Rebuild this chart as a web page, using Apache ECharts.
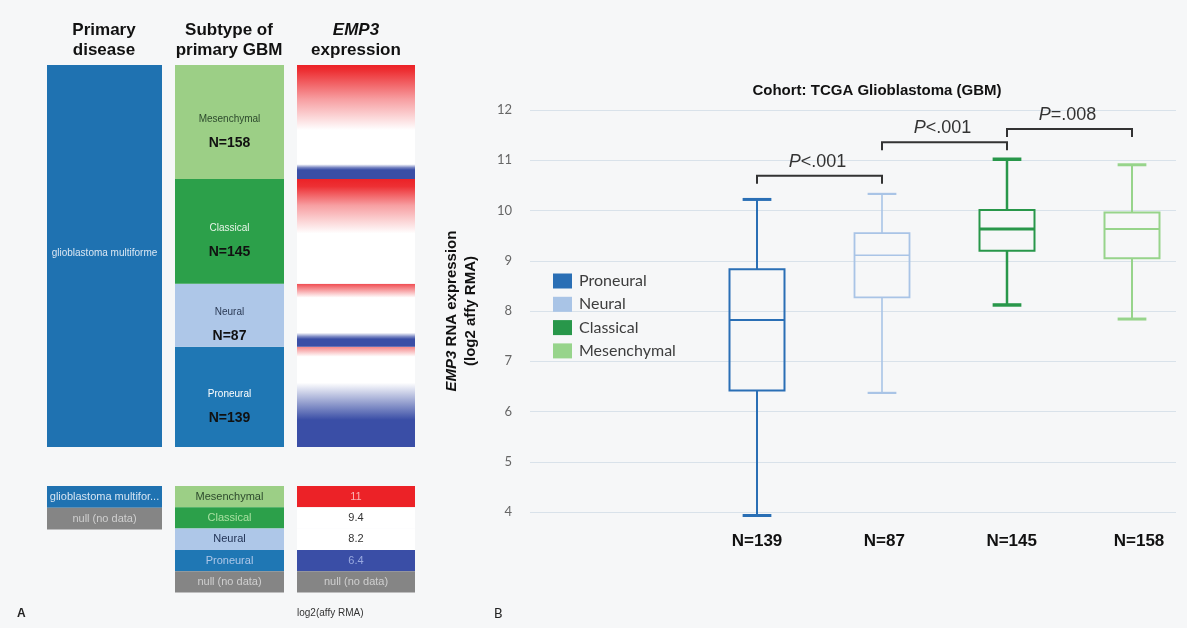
<!DOCTYPE html>
<html><head><meta charset="utf-8">
<script src="https://cdn.jsdelivr.net/npm/echarts@6/dist/echarts.min.js"></script>
<style>html,body{margin:0;padding:0;background:#f6f7f8}#c{width:1187px;height:628px}</style>
</head><body><div id="c"></div><script>
// ---------------- data ----------------
const subtypes = ['Proneural', 'Neural', 'Classical', 'Mesenchymal'];
const subtypeN = [139, 87, 145, 158];
const primaryDisease = 'glioblastoma multiforme';
const primaryLegend = ['glioblastoma multifor...', 'null (no data)'];
// box stats: [min, Q1, median, Q3, max] (log2 affy RMA)
const proneuralStats = [3.93, 6.42, 7.82, 8.83, 10.22];
const neuralStats = [6.37, 8.27, 9.11, 9.55, 10.33];
const classicalStats = [8.12, 9.20, 9.63, 10.01, 11.02];
const mesenchymalStats = [7.84, 9.05, 9.63, 9.96, 10.91];
// significance brackets: [from index, to index, bracket level, p text]
const comparisons = [[0, 1, 10.69, '<.001'], [1, 2, 11.36, '<.001'], [2, 3, 11.62, '=.008']];
const yMin = 4, yMax = 12, yStep = 1;
// EMP3 expression profile inside each subtype block (sorted, top -> bottom): [fraction, value]
const proneuralProfile = [[0, 10.3], [0.1, 9.4], [0.36, 8.2], [0.73, 6.4], [1, 5.5]];
const neuralProfile = [[0, 10.7], [0.22, 9.4], [0.78, 8.2], [0.84, 7.0], [0.88, 6.4], [1, 6.0]];
const classicalProfile = [[0, 11.2], [0.07, 10.9], [0.25, 10.1], [0.52, 9.4], [1, 8.4]];
const mesenchymalProfile = [[0, 11.2], [0.05, 10.9], [0.3, 10.1], [0.57, 9.4], [0.87, 8.2], [0.9, 6.9], [0.92, 6.4], [1, 6.0]];
const scaleTicks = [11, 9.4, 8.2, 6.4];
const nullLabel = 'null (no data)';

// ---------------- styles ----------------
const FONT = 'Arial, "Liberation Sans", sans-serif';
const HUM = 'Lato, "Open Sans", sans-serif';
const boxColors = ['#2a6fb5', '#a9c4e6', '#28974a', '#97d48b'];
const cellColors = ['#1f77b4', '#aec7e8', '#2ca04a', '#9ccf86'];
const cellNameColors = ['#ffffff', '#2b3a55', '#e8f5e8', '#2d4a2d'];
const legendTextColors = ['#aec7e8', '#223355', '#a8e0a0', '#2d4a2d'];
const RED = [236, 34, 39], WHITE = [255, 255, 255], BLUE = [58, 78, 166];
const GRAY = '#858585';

function mix(a, b, t) { return 'rgb(' + a.map((v, k) => Math.round(v + (b[k] - v) * t)).join(',') + ')'; }
function colorFor(v) {
  const [hi, w1, w2, lo] = scaleTicks;
  if (v >= hi) return mix(RED, RED, 0);
  if (v >= w1) return mix(WHITE, RED, (v - w1) / (hi - w1));
  if (v >= w2) return mix(WHITE, WHITE, 0);
  if (v >= lo) return mix(BLUE, WHITE, (v - lo) / (w2 - lo));
  return mix(BLUE, BLUE, 0);
}
const profiles = [proneuralProfile, neuralProfile, classicalProfile, mesenchymalProfile];
const stats = [proneuralStats, neuralStats, classicalStats, mesenchymalStats];
const total = subtypeN.reduce((a, b) => a + b, 0);

const chart = echarts.init(document.getElementById('c'));

// column geometry of panel A
const colA = [{ left: 47, width: 115 }, { left: 175, width: 109 }, { left: 297, width: 118 }];
const aTop = 65, aBottom = 628 - 447;

function boxRenderer(boxLw, medLw, whLw, capLw) {
  return function (params, api) {
    const i = api.value(0);
    const v = [1, 2, 3, 4, 5].map(k => api.value(k));
    const bw = api.size([1, 0])[0];
    const hb = bw * 0.22, hc = bw * 0.115;
    const x = api.coord([i, v[2]])[0];
    const y = val => api.coord([i, val])[1];
    const c = api.visual('color');
    const ls = w => ({ stroke: c, lineWidth: w, fill: null });
    return {
      type: 'group', children: [
        { type: 'line', shape: { x1: x, y1: y(v[3]), x2: x, y2: y(v[4]) }, style: ls(whLw) },
        { type: 'line', shape: { x1: x, y1: y(v[1]), x2: x, y2: y(v[0]) }, style: ls(whLw) },
        { type: 'line', shape: { x1: x - hc, y1: y(v[4]), x2: x + hc, y2: y(v[4]) }, style: ls(capLw) },
        { type: 'line', shape: { x1: x - hc, y1: y(v[0]), x2: x + hc, y2: y(v[0]) }, style: ls(capLw) },
        { type: 'rect', shape: { x: x - hb, y: y(v[3]), width: 2 * hb, height: y(v[1]) - y(v[3]) }, style: ls(boxLw) },
        { type: 'line', shape: { x1: x - hb, y1: y(v[2]), x2: x + hb, y2: y(v[2]) }, style: ls(medLw) }
      ]
    };
  };
}
const lineW = [[2, 2, 2, 3], [1.8, 1.6, 1.6, 2.2], [2, 3, 2.5, 3.5], [2, 2, 2, 3]];

const series = [];
// Panel A column 1
series.push({
  type: 'bar', name: 'A-primary', xAxisIndex: 0, yAxisIndex: 0, barWidth: '100%', data: [total],
  itemStyle: { color: '#1f72b1' }, silent: true,
  label: { show: true, position: 'inside', offset: [0, -3], formatter: primaryDisease, fontSize: 10, color: '#dbe7f3', fontFamily: FONT }
});
// Panel A column 2
subtypes.forEach((s, k) => {
  series.push({
    type: 'bar', name: 'A-' + s, stack: 'sub', xAxisIndex: 1, yAxisIndex: 1, barWidth: '100%', data: [subtypeN[k]],
    itemStyle: { color: cellColors[k] }, silent: true,
    label: {
      show: true, position: 'inside', offset: [0, 7],
      formatter: '{n|' + s + '}\n{b|N=' + subtypeN[k] + '}',
      rich: {
        n: { fontSize: 10, color: cellNameColors[k], lineHeight: 28, fontFamily: FONT },
        b: { fontSize: 14, fontWeight: 'bold', color: '#111', lineHeight: 20, fontFamily: FONT }
      }
    }
  });
});
// Panel A column 3 (expression gradient)
subtypes.forEach((s, k) => {
  const stops = profiles[k].map(p => ({ offset: p[0], color: colorFor(p[1]) }));
  series.push({
    type: 'bar', name: 'E-' + s, stack: 'emp', xAxisIndex: 2, yAxisIndex: 2, barWidth: '100%', data: [subtypeN[k]],
    itemStyle: { color: new echarts.graphic.LinearGradient(0, 0, 0, 1, stops) }, silent: true
  });
});
// Panel B boxes
subtypes.forEach((s, k) => {
  series.push({
    type: 'custom', name: s, xAxisIndex: 4, yAxisIndex: 4, color: boxColors[k],
    itemStyle: { color: boxColors[k] },
    renderItem: boxRenderer(...lineW[k]),
    encode: { x: 0, y: [1, 2, 3, 4, 5] },
    data: [[k].concat(stats[k])], silent: true
  });
});
// Panel B significance brackets
series.push({
  type: 'custom', name: 'sig', xAxisIndex: 4, yAxisIndex: 4, silent: true,
  encode: { x: 0, y: 1 },
  data: comparisons.map(c => [c[0], c[2]]),
  renderItem: function (params, api) {
    const c = comparisons[params.dataIndex];
    const p1 = api.coord([c[0], c[2]]), p2 = api.coord([c[1], c[2]]);
    const yb = p1[1];
    return {
      type: 'group', children: [
        { type: 'polyline', shape: { points: [[p1[0], yb + 8], [p1[0], yb], [p2[0], yb], [p2[0], yb + 8]] }, style: { stroke: '#333', lineWidth: 2, fill: null } },
        {
          type: 'text', x: (p1[0] + p2[0]) / 2 - 2, y: yb - 14,
          style: {
            text: '{i|P}' + c[3], align: 'center', verticalAlign: 'middle', fontSize: 18, fill: '#333', fontFamily: FONT,
            rich: { i: { fontStyle: 'italic', fontSize: 18, fill: '#333', fontFamily: FONT } }
          }
        }
      ]
    };
  }
});

// graphic: headers, panel labels, bottom legends of panel A
const graphic = [];
function header(x, text, rich) {
  graphic.push({ type: 'text', x: x, y: 20, style: { text: text, align: 'center', verticalAlign: 'top', font: 'bold 17px ' + FONT, lineHeight: 20, fill: '#111', rich: rich || {} } });
}
header(104, 'Primary\ndisease');
header(229, 'Subtype of\nprimary GBM');
header(356, '{i|EMP3}\nexpression', { i: { fontStyle: 'italic', fontWeight: 'bold', fontSize: 17, fontFamily: FONT, lineHeight: 20, fill: '#111' } });

function legendCells(col, items, h) {
  items.forEach((it, k) => {
    const y = 486 + k * h;
    graphic.push({ type: 'rect', shape: { x: col.left, y: y, width: col.width, height: h }, style: { fill: it.fill } });
    graphic.push({ type: 'text', x: col.left + col.width / 2, y: y + h / 2, style: { text: it.text, align: 'center', verticalAlign: 'middle', fontSize: 11, fontFamily: FONT, fill: it.color } });
  });
}
legendCells(colA[0], [
  { text: primaryLegend[0], fill: '#1f72b1', color: '#d5e4f2' },
  { text: primaryLegend[1], fill: GRAY, color: '#cfcfcf' }], 21.7);
const order = [3, 2, 1, 0];
legendCells(colA[1], order.map(k => ({ text: subtypes[k], fill: cellColors[k], color: legendTextColors[k] }))
  .concat([{ text: nullLabel, fill: GRAY, color: '#cfcfcf' }]), 21.3);
const scaleText = ['#f9b3b3', '#333', '#333', '#9aaae0'];
legendCells(colA[2], scaleTicks.map((v, k) => ({ text: String(v), fill: colorFor(v), color: scaleText[k] }))
  .concat([{ text: nullLabel, fill: GRAY, color: '#cfcfcf' }]), 21.3);
graphic.push({ type: 'text', x: 297, y: 613, style: { text: 'log2(affy RMA)', verticalAlign: 'middle', fontSize: 10, fontFamily: FONT, fill: '#333' } });
graphic.push({ type: 'text', x: 17, y: 614, style: { text: 'A', verticalAlign: 'middle', font: 'bold 12px ' + FONT, fill: '#222' } });
graphic.push({ type: 'text', x: 494, y: 614, style: { text: 'B', verticalAlign: 'middle', font: '13px ' + HUM, fill: '#222' } });

const hidden = { show: false };
const option = {
  backgroundColor: '#f6f7f8',
  animation: false,
  title: {
    text: 'Cohort: TCGA Glioblastoma (GBM)', left: 872, top: 78, textAlign: 'center',
    textStyle: { fontSize: 15, fontWeight: 'bold', color: '#111', fontFamily: FONT }
  },
  legend: {
    data: subtypes, orient: 'vertical', left: 548, top: 268, icon: 'rect', itemWidth: 19, itemHeight: 15, itemGap: 7.3,
    selectedMode: false, textStyle: { fontSize: 16, color: '#3d3d3d', fontFamily: HUM, padding: [0, 0, 0, 2] }
  },
  grid: [
    { left: colA[0].left, width: colA[0].width, top: aTop, bottom: aBottom, outerBoundsMode: 'none' },
    { left: colA[1].left, width: colA[1].width, top: aTop, bottom: aBottom, outerBoundsMode: 'none' },
    { left: colA[2].left, width: colA[2].width, top: aTop, bottom: aBottom, outerBoundsMode: 'none' },
    { left: 530, right: 11, top: 110, bottom: 116, outerBoundsMode: 'none' },
    { left: 757, width: 375, top: 110, bottom: 116, outerBoundsMode: 'none' },
    { left: 757, width: 382, top: 110, bottom: 116, outerBoundsMode: 'none' }
  ],
  xAxis: [
    { type: 'category', gridIndex: 0, data: ['GBM'], show: false },
    { type: 'category', gridIndex: 1, data: ['GBM'], show: false },
    { type: 'category', gridIndex: 2, data: ['GBM'], show: false },
    { type: 'value', gridIndex: 3, min: 0, max: 1, show: false },
    { type: 'category', gridIndex: 4, data: subtypes, boundaryGap: false, show: false },
    {
      type: 'category', gridIndex: 5, data: subtypeN.map(n => 'N=' + n), boundaryGap: false,
      axisLine: hidden, axisTick: hidden, splitLine: hidden,
      axisLabel: { margin: 21, fontSize: 17, fontWeight: 'bold', color: '#111', fontFamily: FONT }
    }
  ],
  yAxis: [
    { type: 'value', gridIndex: 0, min: 0, max: total, show: false },
    { type: 'value', gridIndex: 1, min: 0, max: total, show: false },
    { type: 'value', gridIndex: 2, min: 0, max: total, show: false },
    {
      type: 'value', gridIndex: 3, min: yMin, max: yMax, interval: yStep,
      axisLine: hidden, axisTick: hidden,
      axisLabel: { margin: 18, fontSize: 13, color: '#666', fontFamily: HUM },
      splitLine: { lineStyle: { color: '#d9e2ea', width: 1 } },
      name: '{i|EMP3} RNA expression\n(log2 affy RMA)', nameLocation: 'middle', nameRotate: 90, nameGap: 50,
      nameTextStyle: {
        fontSize: 15, fontWeight: 'bold', color: '#111', fontFamily: FONT, lineHeight: 19,
        rich: { i: { fontStyle: 'italic', fontWeight: 'bold', fontSize: 15, color: '#111', fontFamily: FONT, lineHeight: 19 } }
      }
    },
    { type: 'value', gridIndex: 4, min: yMin, max: yMax, show: false },
    { type: 'value', gridIndex: 5, min: yMin, max: yMax, show: false }
  ],
  graphic: graphic,
  series: series
};
chart.setOption(option);
</script></body></html>
